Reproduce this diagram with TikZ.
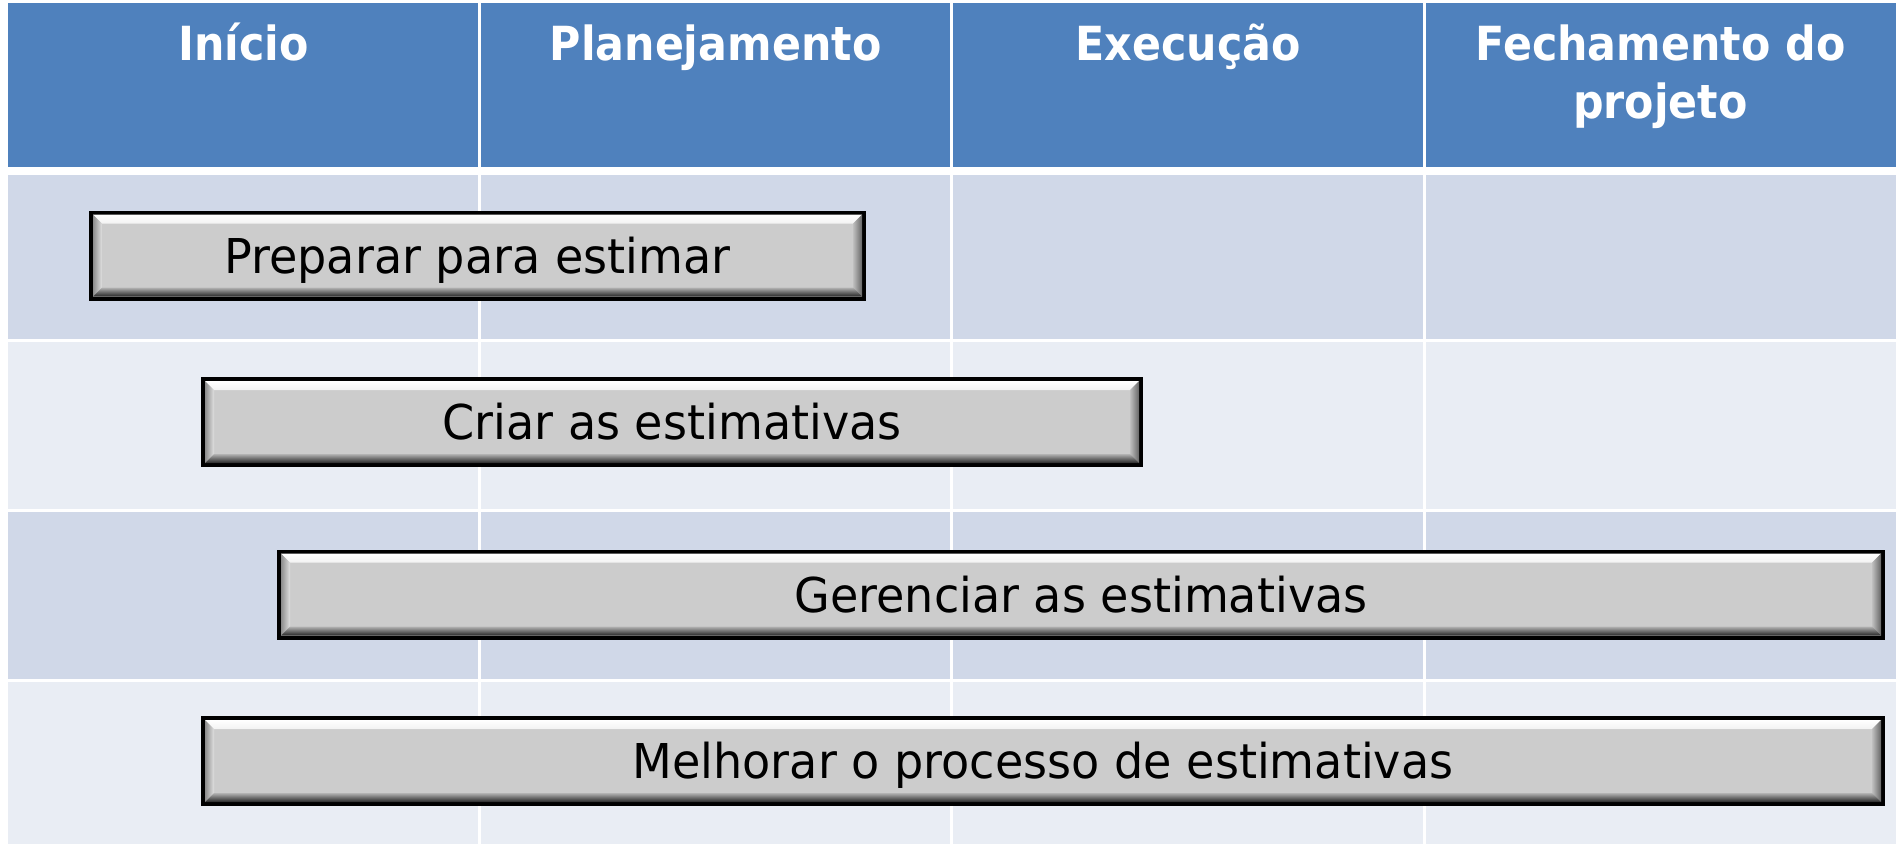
\documentclass[tikz,border=0pt]{standalone}
\usepackage{fontspec}
\setmainfont{DejaVu Sans}[FakeStretch=0.96]
\newfontfamily\hdrfont{DejaVu Sans}[FakeStretch=0.91]
\usetikzlibrary{calc}
\definecolor{hdrblue}{HTML}{4F81BD}
\definecolor{rowdark}{HTML}{D0D8E8}
\definecolor{rowlight}{HTML}{E9EDF4}
\definecolor{barfill}{HTML}{CCCCCC}
\newcommand\bevelbar[1]{%
  \coordinate (#1A) at ($(#1.north west)+(2,2)$);
  \coordinate (#1B) at ($(#1.north east)+(-2,2)$);
  \coordinate (#1C) at ($(#1.south east)+(-2,-2)$);
  \coordinate (#1D) at ($(#1.south west)+(2,-2)$);
  \coordinate (#1a) at ($(#1A)+(9,9)$);
  \coordinate (#1b) at ($(#1B)+(-9,9)$);
  \coordinate (#1c) at ($(#1C)+(-9,-9)$);
  \coordinate (#1d) at ($(#1D)+(9,-9)$);
  \shade[top color=white, bottom color=white!75!barfill] (#1A)--(#1B)--(#1b)--(#1a)--cycle;
  \shade[left color=black!45, right color=black!12] (#1A)--(#1a)--(#1d)--(#1D)--cycle;
  \shade[left color=black!25, right color=black!60] (#1B)--(#1C)--(#1c)--(#1b)--cycle;
  \shade[top color=black!30, bottom color=black!85] (#1D)--(#1d)--(#1c)--(#1C)--cycle;
}
\begin{document}
\begin{tikzpicture}[x=1pt,y=-1pt,
  hdr/.style={text=white, font=\hdrfont\bfseries\fontsize{47}{58}\selectfont, align=center, inner sep=0pt, anchor=base},
  bar/.style={draw=black, line width=4pt, fill=barfill, inner sep=0pt, outer sep=0pt,
    minimum height=86pt, text height=35pt, text depth=0pt, font=\fontsize{48}{58}\selectfont},
  sep/.style={white, line width=3pt}]
\useasboundingbox (0,0) rectangle (1900,844);
\fill[white] (0,0) rectangle (1900,844);
\fill[hdrblue] (8,3) rectangle (1896,167);
\fill[rowdark] (8,175) rectangle (1896,340);
\fill[rowlight] (8,340) rectangle (1896,510);
\fill[rowdark] (8,510) rectangle (1896,680);
\fill[rowlight] (8,680) rectangle (1896,844);
\draw[sep] (8,340) -- (1896,340);
\draw[sep] (8,510) -- (1896,510);
\draw[sep] (8,680) -- (1896,680);
\draw[sep] (479.5,3) -- (479.5,844);
\draw[sep] (951.5,3) -- (951.5,844);
\draw[sep] (1424.5,3) -- (1424.5,844);
\node[hdr] (h1) at (243.5,60) {Início};
\node[hdr] (h2) at (715.5,60) {Planejamento};
\node[hdr] (h3) at (1188,60) {Execução};
\node[hdr] (h4) at (1660.5,118) {Fechamento do\\projeto};
\node[bar, minimum width=773pt] (b1) at (477.5,255.5) {Preparar para estimar};
\node[bar, minimum width=938pt] (b2) at (672,422) {Criar as estimativas};
\node[bar, minimum width=1604pt] (b3) at (1081,594.5) {Gerenciar as estimativas};
\node[bar, minimum width=1680pt] (b4) at (1043,761) {Melhorar o processo de estimativas};
\bevelbar{b1}
\bevelbar{b2}
\bevelbar{b3}
\bevelbar{b4}
\end{tikzpicture}
\end{document}
